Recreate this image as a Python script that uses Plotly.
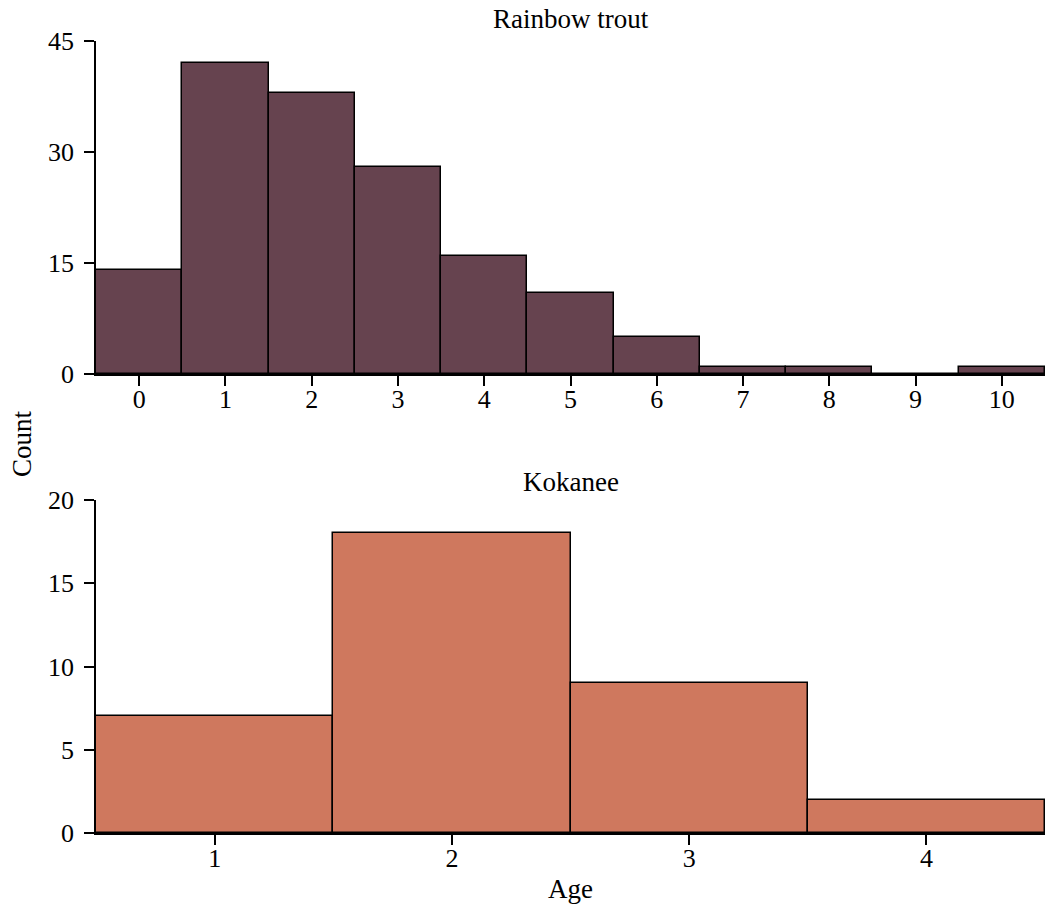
import plotly.graph_objects as go

trout_ages = [0, 1, 2, 3, 4, 5, 6, 7, 8, 9, 10]
trout_counts = [14, 42, 38, 28, 16, 11, 5, 1, 1, 0, 1]
kok_ages = [1, 2, 3, 4]
kok_counts = [7, 18, 9, 2]
trout_yticks = [0, 15, 30, 45]
kok_yticks = [0, 5, 10, 15, 20]

H = 911
W = 1045
FONT = "Liberation Serif"

fig = go.Figure()
fig.add_trace(go.Bar(x=trout_ages, y=trout_counts, width=1, xaxis="x", yaxis="y",
                     marker=dict(color="#66434F", line=dict(color="black", width=1.5)),
                     showlegend=False))
fig.add_trace(go.Bar(x=kok_ages, y=kok_counts, width=1, xaxis="x2", yaxis="y2",
                     marker=dict(color="#CF785E", line=dict(color="black", width=1.5)),
                     showlegend=False))

axis_common = dict(showgrid=False, zeroline=False, showline=True, linecolor="black",
                   linewidth=1.5, ticks="outside", tickcolor="black", tickwidth=1.5,
                   automargin=False,
                   tickfont=dict(family=FONT, size=26, color="black"))

top_dom = [1 - 374 / H, 1 - 41 / H]
bot_dom = [1 - 833 / H, 1 - 500 / H]

fig.update_layout(
    width=W, height=H,
    margin=dict(l=96, r=0, t=0, b=0, autoexpand=False),
    plot_bgcolor="white", paper_bgcolor="white",
    bargap=0,
    xaxis=dict(axis_common, domain=[0, 1], range=[-0.5, 10.5], tickvals=trout_ages,
               ticklen=10, ticklabelstandoff=-9, anchor="y"),
    yaxis=dict(axis_common, domain=top_dom, range=[0, 45], tickvals=trout_yticks,
               ticklen=10, ticklabelstandoff=5, anchor="x"),
    xaxis2=dict(axis_common, domain=[0, 1], range=[0.5, 4.5], tickvals=kok_ages,
                ticklen=10, ticklabelstandoff=-9, anchor="y2"),
    yaxis2=dict(axis_common, domain=bot_dom, range=[0, 20], tickvals=kok_yticks,
                ticklen=10, ticklabelstandoff=5, anchor="x2"),
    annotations=[
        dict(text="Rainbow trout", x=0.5, y=1 - 19 / H, xref="paper", yref="paper",
             showarrow=False, font=dict(family=FONT, size=27, color="black"),
             xanchor="center", yanchor="middle"),
        dict(text="Kokanee", x=0.5, y=1 - 482 / H, xref="paper", yref="paper",
             showarrow=False, font=dict(family=FONT, size=27, color="black"),
             xanchor="center", yanchor="middle"),
        dict(text="Count", x=(22 - 96) / (W - 96), y=1 - 444 / H, xref="paper", yref="paper",
             showarrow=False, textangle=-90, font=dict(family=FONT, size=27, color="black"),
             xanchor="center", yanchor="middle"),
        dict(text="Age", x=0.5, y=1 - 889 / H, xref="paper", yref="paper",
             showarrow=False, font=dict(family=FONT, size=27, color="black"),
             xanchor="center", yanchor="middle"),
    ],
)

fig.write_html("out.html")
